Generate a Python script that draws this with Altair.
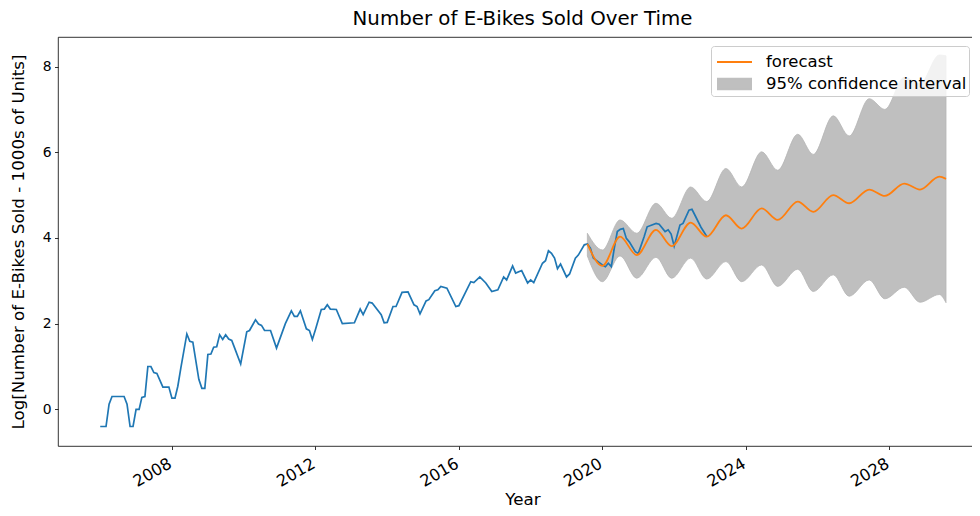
import altair as alt
import pandas as pd

# ---------------- data ----------------
actual_dates = [
    "2006-01-01", "2006-03-01", "2006-04-01", "2006-05-01", "2006-09-01", "2006-10-01",
    "2006-11-01", "2006-12-01", "2007-01-01", "2007-02-01", "2007-03-01", "2007-04-01",
    "2007-05-01", "2007-06-01", "2007-07-01", "2007-08-01", "2007-10-01", "2007-12-01",
    "2008-01-01", "2008-02-01", "2008-03-01", "2008-04-01", "2008-06-01", "2008-07-01",
    "2008-08-01", "2008-10-01", "2008-11-01", "2008-12-01", "2009-01-01", "2009-02-01",
    "2009-03-01", "2009-04-01", "2009-05-01", "2009-06-01", "2009-07-01", "2009-08-01",
    "2009-09-01", "2009-10-01", "2009-12-01", "2010-02-01", "2010-03-01", "2010-05-01",
    "2010-06-01", "2010-07-01", "2010-08-01", "2010-10-01", "2010-12-01", "2011-03-01",
    "2011-05-01", "2011-06-01", "2011-07-01", "2011-08-01", "2011-10-01", "2011-11-01",
    "2011-12-01", "2012-01-01", "2012-03-01", "2012-04-01", "2012-05-01", "2012-06-01",
    "2012-08-01", "2012-10-01", "2013-02-01", "2013-04-01", "2013-05-01", "2013-07-01",
    "2013-08-01", "2013-11-01", "2013-12-01", "2014-01-01", "2014-03-01", "2014-04-01",
    "2014-06-01", "2014-08-01", "2014-10-01", "2014-11-01", "2014-12-01", "2015-02-01",
    "2015-03-01", "2015-05-01", "2015-06-01", "2015-07-01", "2015-09-01", "2015-12-01",
    "2016-01-01", "2016-05-01", "2016-06-01", "2016-08-01", "2016-10-01", "2016-12-01",
    "2017-02-01", "2017-04-01", "2017-05-01", "2017-07-01", "2017-08-01", "2017-10-01",
    "2017-12-01", "2018-01-01", "2018-02-01", "2018-05-01", "2018-06-01", "2018-07-01",
    "2018-08-01", "2018-09-01", "2018-10-01", "2018-11-01", "2019-01-01", "2019-02-01",
    "2019-04-01", "2019-05-01", "2019-07-01", "2019-08-01", "2019-09-01", "2019-10-01",
    "2020-01-01", "2020-02-01", "2020-03-01", "2020-04-01", "2020-05-01", "2020-06-01",
    "2020-07-01", "2020-08-01", "2020-09-01", "2020-10-01", "2020-12-01", "2021-01-01",
    "2021-03-01", "2021-04-01", "2021-07-01", "2021-08-01", "2021-10-01", "2021-11-01",
    "2021-12-01", "2022-01-01", "2022-03-01", "2022-04-01", "2022-06-01", "2022-07-01",
    "2022-08-01", "2022-10-01", "2022-12-01",
]
actual_values = [
    -0.40, -0.40, 0.12, 0.30, 0.30, 0.12,
    -0.40, -0.40, 0.00, 0.00, 0.28, 0.30,
    1.00, 1.00, 0.86, 0.84, 0.52, 0.52,
    0.26, 0.26, 0.54, 0.97, 1.76, 1.59,
    1.57, 0.70, 0.49, 0.49, 1.28, 1.29,
    1.45, 1.46, 1.74, 1.63, 1.74, 1.64,
    1.61, 1.43, 1.06, 1.81, 1.84, 2.09,
    1.99, 1.96, 1.84, 1.84, 1.43, 2.00,
    2.30, 2.17, 2.17, 2.30, 1.88, 1.84,
    1.63, 1.86, 2.33, 2.34, 2.44, 2.34,
    2.33, 2.00, 2.02, 2.34, 2.21, 2.50,
    2.48, 2.21, 2.02, 2.03, 2.40, 2.40,
    2.73, 2.74, 2.44, 2.40, 2.23, 2.53,
    2.56, 2.77, 2.79, 2.87, 2.83, 2.40,
    2.42, 2.98, 2.96, 3.09, 2.95, 2.75,
    2.79, 3.09, 3.02, 3.35, 3.18, 3.24,
    2.95, 3.02, 2.96, 3.41, 3.47, 3.70,
    3.64, 3.53, 3.28, 3.39, 3.09, 3.16,
    3.53, 3.60, 3.84, 3.86, 3.76, 3.53,
    3.37, 3.33, 3.41, 3.33, 3.76, 4.15,
    4.20, 4.22, 3.99, 3.91, 3.68, 3.64,
    4.03, 4.26, 4.34, 4.32, 4.15, 4.19,
    4.09, 3.81, 4.30, 4.34, 4.65, 4.67,
    4.53, 4.25, 4.03,
]

fc_dates = [
    "2019-08-01", "2020-01-01", "2020-06-29", "2020-12-16", "2021-06-30", "2021-12-07",
    "2022-06-18", "2022-11-28", "2023-06-12", "2023-11-19", "2024-06-10", "2024-11-20",
    "2025-06-12", "2025-11-17", "2026-06-09", "2026-11-18", "2027-06-10", "2027-11-16",
    "2028-06-01", "2028-11-08", "2029-05-24", "2029-07-31",
]
fc_mean = [
    3.86, 3.35, 4.03, 3.60, 4.19, 3.81,
    4.36, 4.03, 4.53, 4.22, 4.69, 4.42,
    4.85, 4.61, 5.00, 4.81, 5.13, 4.98,
    5.27, 5.13, 5.43, 5.38,
]
fc_upper = [
    4.11, 3.72, 4.42, 4.11, 4.81, 4.46,
    5.19, 4.85, 5.62, 5.19, 6.01, 5.58,
    6.42, 5.95, 6.85, 6.38, 7.25, 7.00,
    7.75, 7.60, 8.27, 8.25,
]
fc_lower = [
    3.58, 2.98, 3.58, 3.06, 3.55, 3.06,
    3.53, 3.04, 3.45, 2.98, 3.37, 2.87,
    3.27, 2.75, 3.14, 2.64, 3.02, 2.58,
    2.85, 2.50, 2.68, 2.49,
]

legend_labels = ["forecast", "95% confidence interval"]
x_tick_years = [2008, 2012, 2016, 2020, 2024, 2028]
y_ticks = [0, 2, 4, 6, 8]

# ---------------- frames ----------------
actual_df = pd.DataFrame({"date": actual_dates, "value": actual_values})
fc_df = pd.DataFrame({"date": fc_dates, "mean": fc_mean, "upper": fc_upper, "lower": fc_lower})
legend_df = pd.DataFrame({"series": legend_labels, "date": fc_dates[:2], "value": fc_mean[:2]})

FONT = "DejaVu Sans"
BLUE = "#1f77b4"
ORANGE = "#ff7f0e"
GRAY = "#bfbfbf"
Y_TITLE = "Log[Number of E-Bikes Sold - 1000s of Units]"

x_scale = alt.Scale(
    type="utc",
    domain=[alt.DateTime(year=2004, month=10, date=28, utc=True),
            alt.DateTime(year=2030, month=5, date=12, utc=True)],
)
y_scale = alt.Scale(domain=[-0.855, 8.69], nice=False, zero=False)

x_axis = alt.Axis(
    values=[alt.DateTime(year=y, month=1, date=1, utc=True) for y in x_tick_years],
    format="%Y", labelAngle=-30, labelAlign="right", labelBaseline="top",
    labelFontSize=16.2, labelOffset=-6, labelPadding=5.5,
    labelOverlap=False, title="Year", titleX=464.5, titleY=58,
    titleAlign="center", titleBaseline="alphabetic",
)
y_axis = alt.Axis(
    values=y_ticks, title=Y_TITLE,
    titleX=-39.5, titleY=204.5, titleAngle=-90, titleAlign="center", titleBaseline="middle",
)

X = alt.X("date:T", scale=x_scale, axis=x_axis, title="Year")

area = alt.Chart(fc_df).mark_area(
    interpolate="monotone", color=GRAY, stroke="#b5b5b5", strokeWidth=0.8
).encode(
    x=X,
    y=alt.Y("lower:Q", scale=y_scale, axis=y_axis, title=Y_TITLE),
    y2="upper:Q",
)

actual_line = alt.Chart(actual_df).mark_line(color=BLUE, strokeWidth=1.7).encode(
    x=X,
    y=alt.Y("value:Q", scale=y_scale, axis=y_axis, title=Y_TITLE),
)

fc_line = alt.Chart(fc_df).mark_line(color=ORANGE, strokeWidth=1.8, interpolate="monotone").encode(
    x=X,
    y=alt.Y("mean:Q", scale=y_scale, axis=y_axis, title=Y_TITLE),
)

line_path = "M-1.4,0L1.4,0"
rect_path = "M-1.32,-0.42L1.32,-0.42L1.32,0.42L-1.32,0.42Z"

legend_layer = alt.Chart(legend_df).transform_filter("false").mark_point(
    filled=True, opacity=1, size=625
).encode(
    x=X,
    y=alt.Y("value:Q", scale=y_scale, axis=y_axis, title=Y_TITLE),
    fill=alt.Fill("series:N", title=None,
                  scale=alt.Scale(domain=legend_labels, range=["transparent", GRAY])),
    stroke=alt.Stroke("series:N", title=None,
                      scale=alt.Scale(domain=legend_labels, range=[ORANGE, GRAY])),
    shape=alt.Shape("series:N", title=None,
                    scale=alt.Scale(domain=legend_labels, range=[line_path, rect_path])),
)

chart = alt.layer(area, actual_line, fc_line, legend_layer).properties(
    width=916,
    height=409,
    autosize=alt.AutoSizeParams(type="none"),
    padding={"left": 50, "top": 29, "right": -2, "bottom": 62},
    title=alt.TitleParams(
        "Number of E-Bikes Sold Over Time", font=FONT, fontSize=19.8,
        fontWeight="normal", color="black", anchor="middle", dx=6.5, offset=8,
    ),
).configure_view(
    stroke="black", strokeWidth=0.8
).configure_axis(
    labelFont=FONT, labelFontSize=13.9, labelColor="black", labelPadding=3.5,
    titleFont=FONT, titleFontSize=16.7, titleColor="black", titleFontWeight="normal",
    domain=False, tickColor="black", tickWidth=0.8,
    tickSize=3.5, grid=False,
).configure_legend(
    orient="none", legendX=653, legendY=9, padding=2.5, symbolOffset=7.5,
    labelOffset=18, rowPadding=0, labelFont=FONT, labelFontSize=16.5,
    labelColor="black", labelLimit=400, fillColor="rgba(255,255,255,0.8)",
    strokeColor="#cccccc", cornerRadius=3, symbolStrokeWidth=2, symbolSize=625,
    titlePadding=0,
)

chart.save("out.html", embed_options={"renderer": "svg", "actions": False})
